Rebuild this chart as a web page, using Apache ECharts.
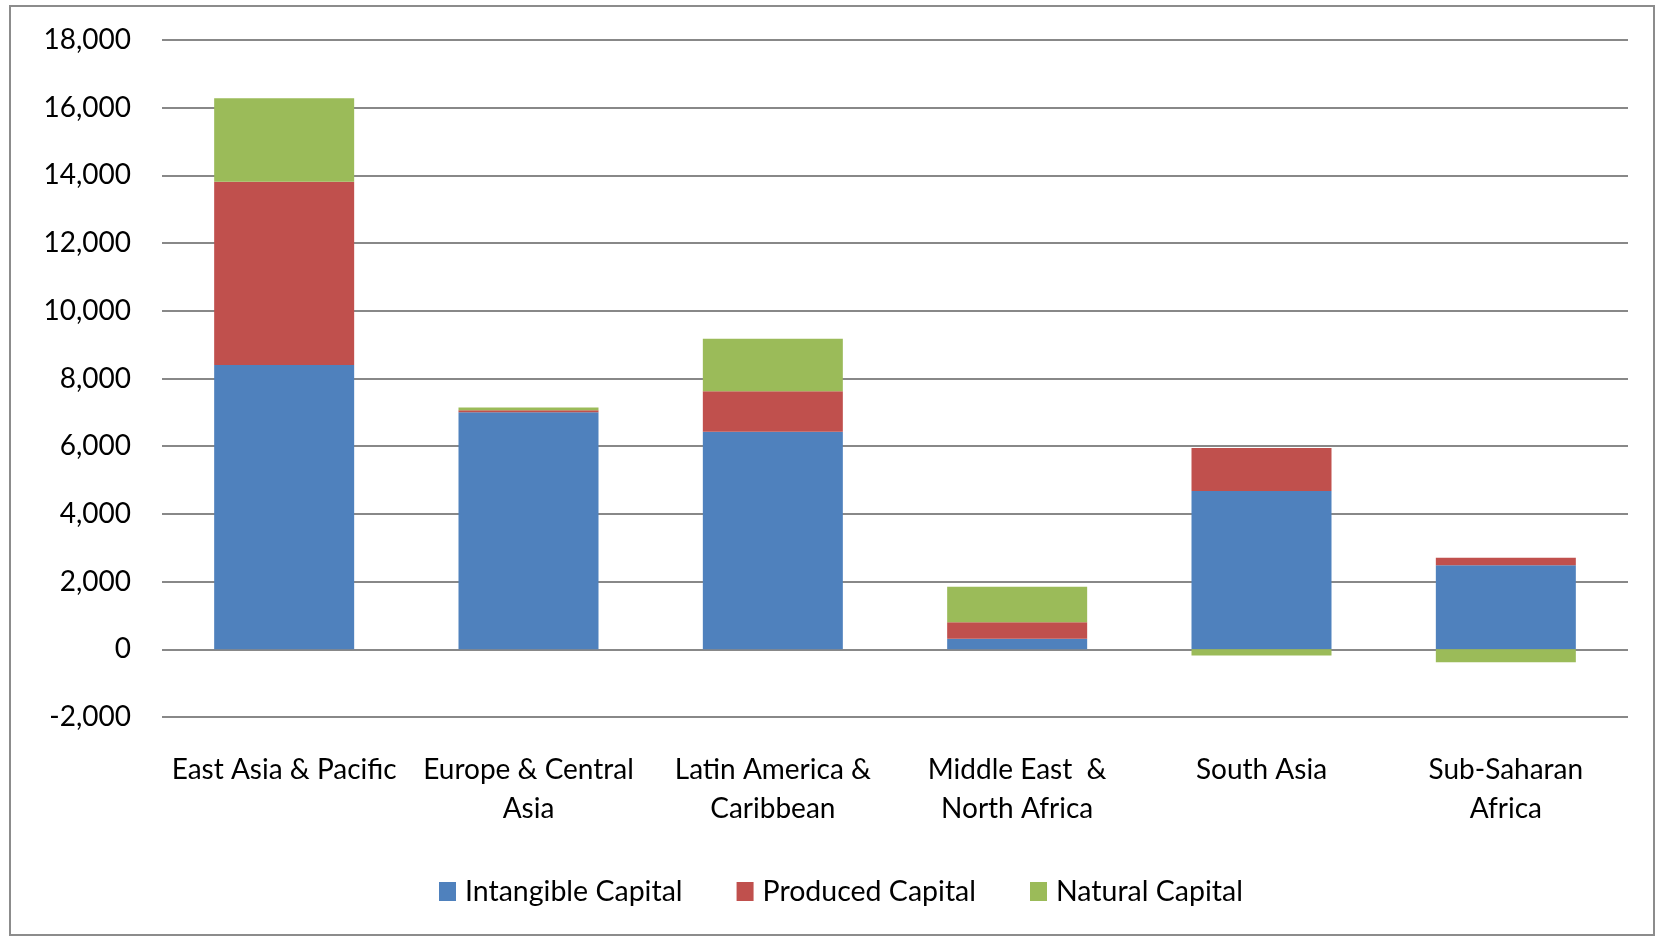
<!DOCTYPE html>
<html>
<head>
<meta charset="utf-8">
<title>Total wealth per capita by region</title>
<script src="https://cdn.jsdelivr.net/npm/echarts@6/dist/echarts.min.js"></script>
<style>
  html, body { margin: 0; padding: 0; background: #ffffff; }
  #chart { width: 1655px; height: 936px; }
</style>
</head>
<body>
<div id="chart"></div>
<script>
// Regions (tick labels, wrapped as printed under the axis)
const regions = [
  'East Asia & Pacific',
  'Europe & Central\nAsia',
  'Latin America &\nCaribbean',
  'Middle East  &\nNorth Africa',
  'South Asia',
  'Sub-Saharan\nAfrica'
];

// Wealth components per capita
const intangibleCapital = [8400, 7000, 6430, 315, 4675, 2480];
const producedCapital   = [5410,   60, 1195, 485, 1275,  225];
const naturalCapital    = [2470,   80, 1550, 1050, -180, -385];

const seriesNames = ['Intangible Capital', 'Produced Capital', 'Natural Capital'];

// Value axis range and step
const yMin = -2000;
const yMax = 18000;
const yStep = 2000;

const FONT = "Lato, 'Liberation Sans', sans-serif";
const colors = ['#4F81BD', '#C0504D', '#9BBB59'];

const chart = echarts.init(document.getElementById('chart'), null, { renderer: 'canvas' });

function barSeries(name, values, color) {
  return {
    name: name,
    type: 'bar',
    stack: 'wealth',
    data: values,
    barWidth: 140,
    itemStyle: { color: color },
    emphasis: { disabled: true }
  };
}

chart.setOption({
  animation: false,
  backgroundColor: '#ffffff',
  color: colors,
  textStyle: { fontFamily: FONT },
  grid: {
    left: 162,
    right: 27,
    top: 40,
    bottom: 219,
    containLabel: false
  },
  legend: {
    data: seriesNames,
    left: 434,
    top: 872,
    itemWidth: 17,
    itemHeight: 19,
    itemGap: 54,
    icon: 'rect',
    selectedMode: false,
    textStyle: {
      fontFamily: FONT,
      fontSize: 28.5,
      color: '#000000',
      padding: [0, 0, 0, 4]
    }
  },
  xAxis: {
    type: 'category',
    data: regions,
    axisLine: { show: false, onZero: false },
    axisTick: { show: false },
    axisLabel: {
      interval: 0,
      margin: 33,
      fontFamily: FONT,
      fontSize: 28,
      lineHeight: 39,
      color: '#000000',
      align: 'center'
    },
    splitLine: { show: false }
  },
  yAxis: {
    type: 'value',
    min: yMin,
    max: yMax,
    interval: yStep,
    axisLine: { show: false },
    axisTick: { show: false },
    axisLabel: {
      margin: 31,
      fontFamily: FONT,
      fontSize: 28,
      color: '#000000',
      formatter: function (v) { return v.toLocaleString('en-US'); }
    },
    splitLine: {
      show: true,
      lineStyle: { color: '#888888', width: 2 }
    }
  },
  series: [
    barSeries(seriesNames[0], intangibleCapital, colors[0]),
    barSeries(seriesNames[1], producedCapital, colors[1]),
    barSeries(seriesNames[2], naturalCapital, colors[2])
  ],
  graphic: [
    {
      type: 'rect',
      silent: true,
      z: -1,
      shape: { x: 10, y: 6, width: 1644, height: 929 },
      style: { fill: 'none', stroke: '#8c8c8c', lineWidth: 2 }
    }
  ]
});
</script>
</body>
</html>
